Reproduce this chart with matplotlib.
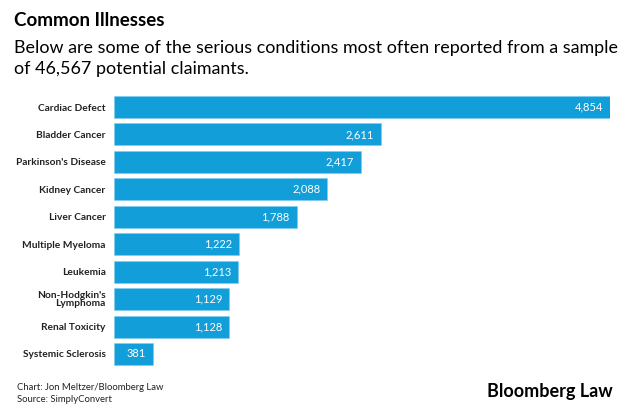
import matplotlib.pyplot as plt

# Chart data
illnesses = ["Cardiac Defect", "Bladder Cancer", "Parkinson's Disease", "Kidney Cancer",
             "Liver Cancer", "Multiple Myeloma", "Leukemia", "Non-Hodgkin's\nLymphoma",
             "Renal Toxicity", "Systemic Sclerosis"]
counts = [4854, 2611, 2417, 2088, 1788, 1222, 1213, 1129, 1128, 381]

bar_color = "#119ed9"
plt.rcParams['font.family'] = ['Lato', 'DejaVu Sans']

fig = plt.figure(figsize=(6.33, 4.16), dpi=100)
fig.patch.set_facecolor("white")

# axes placed so bars run from x=114px to x=610px for the max value
ax = fig.add_axes([114 / 633, 0.1161, 496 / 633, 0.6596])
positions = list(range(len(illnesses)))
ax.barh(positions, counts, height=0.8, color=bar_color, edgecolor="#7fcdf0", linewidth=0.4)
ax.set_xlim(0, max(counts))
ax.set_ylim(len(illnesses) - 0.5, -0.5)
ax.set_yticks(positions)
ax.set_yticklabels(illnesses, fontsize=7.3, fontweight='bold', color="#222222", linespacing=0.9)
ax.tick_params(axis='y', length=0, pad=6)
ax.set_xticks([])
for s in ax.spines.values():
    s.set_visible(False)

# value labels inside bar ends
for pos, val in zip(positions, counts):
    ax.annotate(f"{val:,}", xy=(val, pos), xytext=(-5, 0), textcoords='offset points',
                ha='right', va='center', color='white', fontsize=8)

# titles
fig.text(14 / 633, 1 - 21 / 416, "Common Illnesses", fontsize=13.5, fontweight='bold',
         va='center', ha='left', color='black')
fig.text(14 / 633, 1 - 48 / 416, "Below are some of the serious conditions most often reported from a sample",
         fontsize=12.9, va='center', ha='left', color='black')
fig.text(14 / 633, 1 - 69 / 416, "of 46,567 potential claimants.",
         fontsize=12.9, va='center', ha='left', color='black')

# footer
fig.text(17 / 633, 1 - 387 / 416, "Chart: Jon Meltzer/Bloomberg Law", fontsize=6.8,
         va='center', ha='left', color='#222222')
fig.text(17 / 633, 1 - 399 / 416, "Source: SimplyConvert", fontsize=6.8,
         va='center', ha='left', color='#222222')
fig.text(613 / 633, 1 - 392 / 416, "Bloomberg Law", fontsize=13, fontweight='bold',
         va='center', ha='right', color='black')

fig.savefig("out.png", dpi=100)
